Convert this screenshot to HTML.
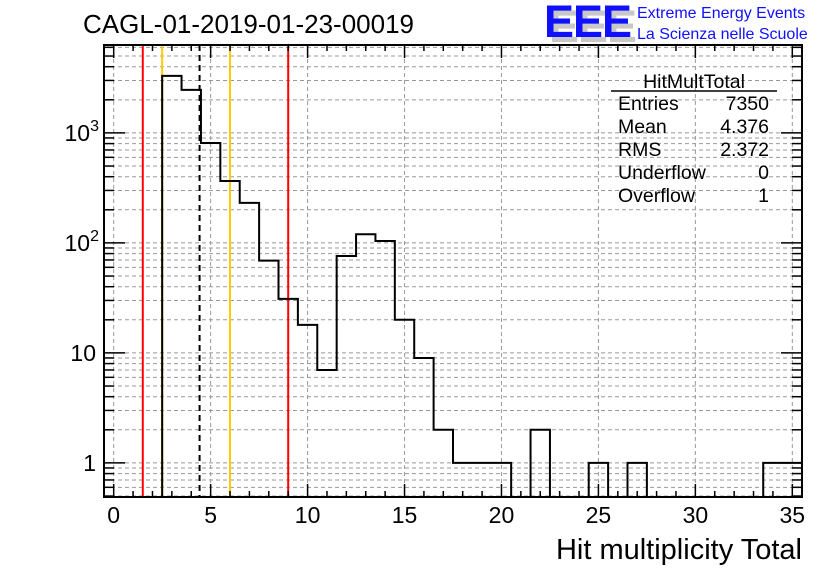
<!DOCTYPE html>
<html><head><meta charset="utf-8"><style>
html,body{margin:0;padding:0;background:#fff;}
svg{display:block;font-family:"Liberation Sans",sans-serif;}
</style></head><body>
<svg id="chart" width="836" height="572" viewBox="0 0 836 572">
<text x="83" y="33" font-size="26">CAGL-01-2019-01-23-00019</text>
<g>
<text x="549" y="42" font-size="45" font-weight="bold" fill="#c8c8c8" letter-spacing="-1">EEE</text>
<text x="544" y="37" font-size="45" font-weight="bold" fill="#1010ff" letter-spacing="-1">EEE</text>
<text x="637" y="18" font-size="16" fill="#1010ff">Extreme Energy Events</text>
<text x="637" y="39" font-size="16" fill="#1010ff">La Scienza nelle Scuole</text>
</g>
<g id="grid"></g>
<g id="lines"></g>
<g id="hist"></g>
<g id="axes"></g>
<g font-size="19.5">
<text x="694" y="88" text-anchor="middle">HitMultTotal</text>
<line x1="611" y1="91" x2="777" y2="91" stroke="#000" stroke-width="1.5"/>
<text x="618" y="110">Entries</text><text x="769" y="110" text-anchor="end">7350</text>
<text x="618" y="133">Mean</text><text x="769" y="133" text-anchor="end">4.376</text>
<text x="618" y="156">RMS</text><text x="769" y="156" text-anchor="end">2.372</text>
<text x="618" y="179">Underflow</text><text x="769" y="179" text-anchor="end">0</text>
<text x="618" y="202">Overflow</text><text x="769" y="202" text-anchor="end">1</text>
</g>
<text x="802" y="559" font-size="29" text-anchor="end">Hit multiplicity Total</text>
</svg>
<script>
const binCenters=[3,4,5,6,7,8,9,10,11,12,13,14,15,16,17,18,19,20,21,22,23,24,25,26,27,28,29,30,31,32,33,34,35];
const counts=[3300,2460,810,366,231,69,31,18,7,76,120,104,20,9,2,1,1,1,0,2,0,0,1,0,1,0,0,0,0,0,0,1,1];
const xTicks=[0,5,10,15,20,25,30,35];
const yDecades=[1,10,100,1000];
const yDecadeLabels=["1","10","10^2","10^3"];
const redLines=[1.5,9];
const yellowLines=[2.5,6];
const meanLine=[4.43];
const NS="http://www.w3.org/2000/svg";
const L=104,R=802,T=45,B=497,xmin=-0.5,xmax=35.5,ymin=Math.log10(0.49),ymax=Math.log10(6300);
const X=v=>L+(v-xmin)/(xmax-xmin)*(R-L);
const Y=v=>B-(Math.log10(v)-ymin)/(ymax-ymin)*(B-T);
function mk(tag,attrs,parent){const e=document.createElementNS(NS,tag);for(const k in attrs)e.setAttribute(k,attrs[k]);parent.appendChild(e);return e;}
const grid=document.getElementById('grid'),axes=document.getElementById('axes'),lines=document.getElementById('lines'),hist=document.getElementById('hist');
xTicks.forEach(t=>{const l=mk('line',{x1:X(t),x2:X(t),y1:T,y2:B,stroke:'#999','stroke-dasharray':'4,3','stroke-width':1},grid);

});
const yMinor=[];
[0.1,1,10,100,1000].forEach(d=>{for(let m=1;m<10;m++){const v=d*m;if(v>=0.49&&v<=6300)yMinor.push(v);}});
yMinor.forEach(v=>{const l=mk('line',{x1:L,x2:R,y1:Y(v),y2:Y(v),stroke:'#999','stroke-dasharray':'4,3','stroke-width':1},grid);

});
function vline(v,c,dash,name){const l=mk('line',{x1:X(v),x2:X(v),y1:T,y2:B,stroke:c,'stroke-width':2},lines);if(dash)l.setAttribute('stroke-dasharray',dash);

}
redLines.forEach(v=>vline(v,'#ff0000',null,'red-cut-line'));
yellowLines.forEach(v=>vline(v,'#ffcc00',null,'yellow-cut-line'));
meanLine.forEach(v=>vline(v,'#000',"6,4",'mean-line'));
let d='',prev=null;
binCenters.forEach((c,i)=>{const v=counts[i];const y=v>0?Y(v):B;const x0=X(c-0.5),x1=X(c+0.5);
 if(prev===null)d+=`M${x0},${B}`;d+=`L${x0},${y}L${x1},${y}`;prev=y;});
d+=`L${X(binCenters[binCenters.length-1]+0.5)},${B}`;
const p=mk('path',{d:d,fill:'none',stroke:'#000','stroke-width':2},hist);


const fr=mk('rect',{x:L,y:T,width:R-L,height:B-T,fill:'none',stroke:'#000','stroke-width':2},axes);


for(let t=0;t<=35;t++){const major=t%5===0;const len=major?13:6;
 mk('line',{x1:X(t),x2:X(t),y1:B,y2:B-len,stroke:'#000','stroke-width':1.5},axes);
 mk('line',{x1:X(t),x2:X(t),y1:T,y2:T+len,stroke:'#000','stroke-width':1.5},axes);}
xTicks.forEach(t=>{const tx=mk('text',{x:X(t),y:523,'font-size':23,'text-anchor':'middle'},axes);tx.textContent=t;
 
 });
yMinor.forEach(v=>{const major=yDecades.includes(v);const len=major?21:10;
 mk('line',{x1:L,x2:L+len,y1:Y(v),y2:Y(v),stroke:'#000','stroke-width':1.5},axes);
 mk('line',{x1:R,x2:R-len,y1:Y(v),y2:Y(v),stroke:'#000','stroke-width':1.5},axes);});
yDecades.forEach((v,i)=>{const lab=yDecadeLabels[i];const tx=mk('text',{x:96,y:Y(v)+8,'font-size':23,'text-anchor':'end'},axes);
 if(lab.includes('^')){const [b,e]=lab.split('^');tx.textContent=b;const ts=mk('tspan',{dy:-10,'font-size':16},tx);ts.textContent=e;tx.setAttribute('x',99);}
 else tx.textContent=lab;
 
 });
</script>
</body></html>
